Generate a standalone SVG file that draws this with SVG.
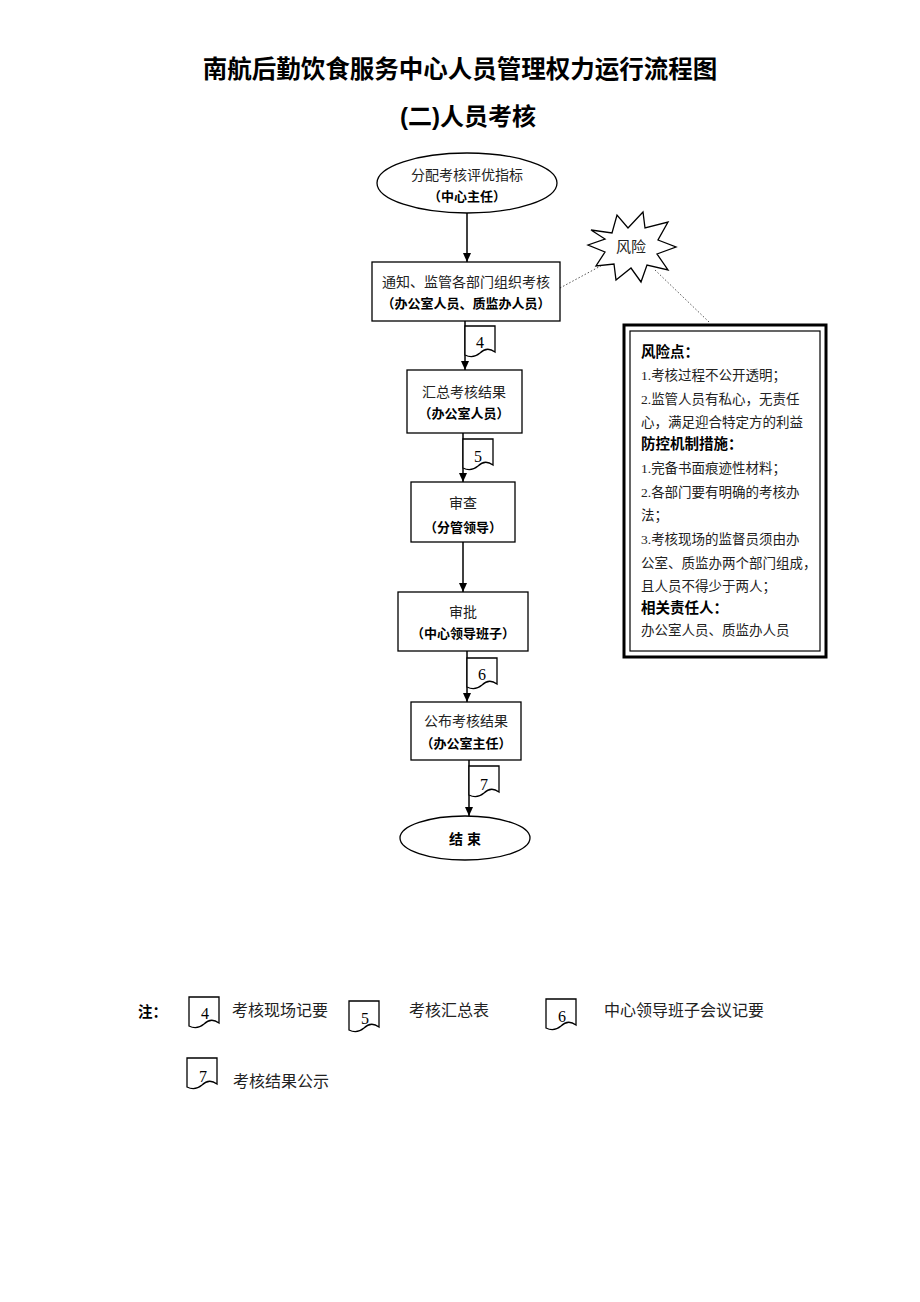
<svg xmlns="http://www.w3.org/2000/svg" width="920" height="1302" viewBox="0 0 920 1302">
<defs>
<style>
.s{fill:#fff;stroke:#000;stroke-width:1.3}
.t{font-family:"Liberation Serif","Noto Sans CJK SC",serif;font-size:14px;fill:#222;text-anchor:middle}
.b{font-family:"Liberation Sans","Noto Sans CJK SC",sans-serif;font-size:13px;font-weight:bold;fill:#000;text-anchor:middle}
.r{font-family:"Liberation Serif","Noto Sans CJK SC",serif;font-size:13.5px;fill:#222}
.l{font-family:"Liberation Serif","Noto Sans CJK SC",serif;font-size:16px;fill:#222}
.rb{font-family:"Liberation Sans","Noto Sans CJK SC",sans-serif;font-size:14.5px;font-weight:bold;fill:#000}
.n{font-family:"Liberation Serif","Noto Sans CJK SC",serif;font-size:16px;fill:#000;text-anchor:middle}
.c{stroke:#000;stroke-width:1.5;fill:none}
.d{stroke:#555;stroke-width:1;stroke-dasharray:1.5 2;fill:none}
</style>
<marker id="a" markerWidth="10" markerHeight="10" refX="9" refY="5" orient="auto" markerUnits="userSpaceOnUse"><path d="M0,1 L9,5 L0,9 z" fill="#000"/></marker>
<path id="doc" d="M0,0 H30 V26 Q22,20 15,27 Q8,33 0,29 Z"/>
</defs>
<text x="460" y="78" text-anchor="middle" font-family="Liberation Sans,Noto Sans CJK SC,sans-serif" font-size="24.5" font-weight="bold">南航后勤饮食服务中心人员管理权力运行流程图</text>
<text x="468" y="125" text-anchor="middle" font-family="Liberation Sans,Noto Sans CJK SC,sans-serif" font-size="24" font-weight="bold">(二)人员考核</text>
<g id="connectors">
<line class="c" x1="467" y1="213" x2="467" y2="262" marker-end="url(#a)"/>
<line class="c" x1="465" y1="321" x2="465" y2="370" marker-end="url(#a)"/>
<line class="c" x1="463" y1="433" x2="463" y2="482" marker-end="url(#a)"/>
<line class="c" x1="463" y1="542" x2="463" y2="592" marker-end="url(#a)"/>
<line class="c" x1="467" y1="651" x2="467" y2="702" marker-end="url(#a)"/>
<line class="c" x1="469" y1="760" x2="469" y2="816" marker-end="url(#a)"/>
<polyline class="d" points="560,288 608,262"/>
<polyline class="d" points="655,270 709,322"/>
</g>
<g id="n1"><ellipse class="s" cx="467" cy="183" rx="90" ry="30"/><text class="t" x="467" y="180">分配考核评优指标</text><text class="b" x="467" y="201">（中心主任）</text></g>
<g id="n2"><rect class="s" x="372" y="262" width="188" height="59"/><text class="t" x="466" y="287">通知、监管各部门组织考核</text><text class="b" x="466" y="308">（办公室人员、质监办人员）</text></g>
<g id="d4"><use href="#doc" class="s" x="465" y="326"/><text class="n" x="480" y="348">4</text></g>
<g id="n3"><rect class="s" x="407" y="370" width="115" height="63"/><text class="t" x="464" y="397">汇总考核结果</text><text class="b" x="464" y="418">（办公室人员）</text></g>
<g id="d5"><use href="#doc" class="s" x="463" y="439"/><text class="n" x="478" y="462">5</text></g>
<g id="n4"><rect class="s" x="411" y="482" width="104" height="60"/><text class="t" x="463" y="508">审查</text><text class="b" x="463" y="532">（分管领导）</text></g>
<g id="n5"><rect class="s" x="398" y="592" width="130" height="59"/><text class="t" x="463" y="617">审批</text><text class="b" x="463" y="638">（中心领导班子）</text></g>
<g id="d6"><use href="#doc" class="s" x="467" y="658"/><text class="n" x="482" y="680">6</text></g>
<g id="n6"><rect class="s" x="411" y="702" width="110" height="58"/><text class="t" x="466" y="726">公布考核结果</text><text class="b" x="466" y="748">（办公室主任）</text></g>
<g id="d7"><use href="#doc" class="s" x="469" y="766"/><text class="n" x="484" y="790">7</text></g>
<g id="end"><ellipse class="s" cx="465" cy="838" rx="65" ry="22"/><text class="b" x="465" y="844" style="font-size:14px">结 束</text></g>
<g id="risk"><polygon class="s" points="591,230 612,233 617,215 628,228 643,212 645,228 668,222 658,240 676,247 657,254 668,270 647,265 641,282 631,268 616,280 614,264 596,266 605,252 588,245 605,239"/><text class="t" x="631" y="252" style="font-size:15px">风险</text></g>
<g id="riskbox">
<rect x="624" y="325" width="202" height="332" fill="#fff" stroke="#000" stroke-width="3"/>
<rect x="630" y="331" width="190" height="320" fill="none" stroke="#000" stroke-width="1.2"/>
<text class="rb" x="641" y="357">风险点：</text>
<text class="r" x="641" y="380">1.考核过程不公开透明；</text>
<text class="r" x="641" y="404">2.监管人员有私心，无责任</text>
<text class="r" x="641" y="427">心，满足迎合特定方的利益</text>
<text class="rb" x="641" y="449">防控机制措施：</text>
<text class="r" x="641" y="473">1.完备书面痕迹性材料；</text>
<text class="r" x="641" y="497">2.各部门要有明确的考核办</text>
<text class="r" x="641" y="520">法；</text>
<text class="r" x="641" y="544">3.考核现场的监督员须由办</text>
<text class="r" x="641" y="568">公室、质监办两个部门组成，</text>
<text class="r" x="641" y="591">且人员不得少于两人；</text>
<text class="rb" x="641" y="613">相关责任人：</text>
<text class="r" x="641" y="635">办公室人员、质监办人员</text>
</g>
<g id="legend">
<text class="rb" x="138" y="1017">注：</text>
<use href="#doc" class="s" x="189" y="997"/><text class="n" x="205" y="1019">4</text>
<text class="l" x="232" y="1016">考核现场记要</text>
<use href="#doc" class="s" x="349" y="1001"/><text class="n" x="365" y="1024">5</text>
<text class="l" x="409" y="1016">考核汇总表</text>
<use href="#doc" class="s" x="546" y="999"/><text class="n" x="562" y="1022">6</text>
<text class="l" x="604" y="1016">中心领导班子会议记要</text>
<use href="#doc" class="s" x="187" y="1058"/><text class="n" x="203" y="1082">7</text>
<text class="l" x="233" y="1087">考核结果公示</text>
</g>
</svg>
